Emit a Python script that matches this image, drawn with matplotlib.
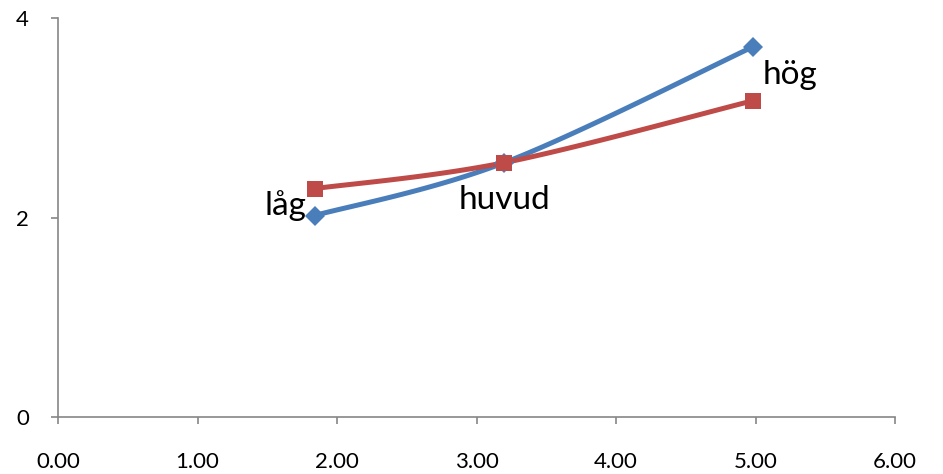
import matplotlib
matplotlib.use("Agg")
import matplotlib.pyplot as plt
import numpy as np

# data
labels = ["låg", "huvud", "hög"]
x_vals = [1.84, 3.20, 4.98]
blue_y = [2.02, 2.55, 3.71]
red_y = [2.29, 2.55, 3.17]

BLUE = "#4A7EBB"
RED = "#BE4B48"
AXIS = "#868686"

plt.rcParams["font.family"] = ["Lato", "DejaVu Sans"]


def _smooth(xs, ys, n=40):
    # Excel-like smoothed line: cubic bezier with Catmull-Rom control points
    p = np.column_stack([xs, ys]).astype(float)
    pts = [p[0]]
    for i in range(len(p) - 1):
        p0 = p[i - 1] if i > 0 else p[i]
        p3 = p[i + 2] if i + 2 < len(p) else p[i + 1]
        c1 = p[i] + (p[i + 1] - p0) / 6.0
        c2 = p[i + 1] - (p3 - p[i]) / 6.0
        t = np.linspace(0, 1, n)[1:, None]
        seg = ((1 - t) ** 3) * p[i] + 3 * ((1 - t) ** 2) * t * c1 + 3 * (1 - t) * t**2 * c2 + t**3 * p[i + 1]
        pts.extend(seg)
    pts = np.array(pts)
    return pts[:, 0], pts[:, 1]


fig = plt.figure(figsize=(9.43, 4.74), dpi=100)
ax = fig.add_axes([58 / 943, 57 / 474, (895 - 58) / 943, (417 - 18) / 474])

for ys, color, marker, ms in ((blue_y, BLUE, "D", 10), (red_y, RED, "s", 12)):
    sx, sy = _smooth(x_vals, ys)
    ax.plot(sx, sy, color=color, linewidth=3.6, solid_capstyle="round", zorder=2)
    ax.plot(x_vals, ys, linestyle="none", marker=marker, markersize=ms,
            color=color, markeredgewidth=0, zorder=3)

ax.annotate(labels[0], (x_vals[0], blue_y[0]), xytext=(-6, 7), textcoords="offset points",
            ha="right", va="center", fontsize=24)
ax.annotate(labels[1], (x_vals[1], blue_y[1]), xytext=(0, -27), textcoords="offset points",
            ha="center", va="center", fontsize=24)
ax.annotate(labels[2], (x_vals[2], blue_y[2]), xytext=(7, -20), textcoords="offset points",
            ha="left", va="center", fontsize=24)

ax.set_xlim(0, 6)
ax.set_ylim(0, 4)
ax.set_xticks(np.arange(0, 7))
ax.set_xticklabels([f"{v:.2f}" for v in range(7)])
ax.set_yticks([0, 2, 4])
ax.set_yticklabels(["0", "2", "4"])

for side in ("top", "right"):
    ax.spines[side].set_visible(False)
for side in ("left", "bottom"):
    ax.spines[side].set_color(AXIS)
    ax.spines[side].set_linewidth(1.2)
ax.tick_params(axis="both", colors=AXIS, length=5, width=1.2, labelsize=16, labelcolor="black")
ax.tick_params(axis="x", pad=20)
ax.tick_params(axis="y", pad=16)

fig.savefig("out.png", dpi=100)
